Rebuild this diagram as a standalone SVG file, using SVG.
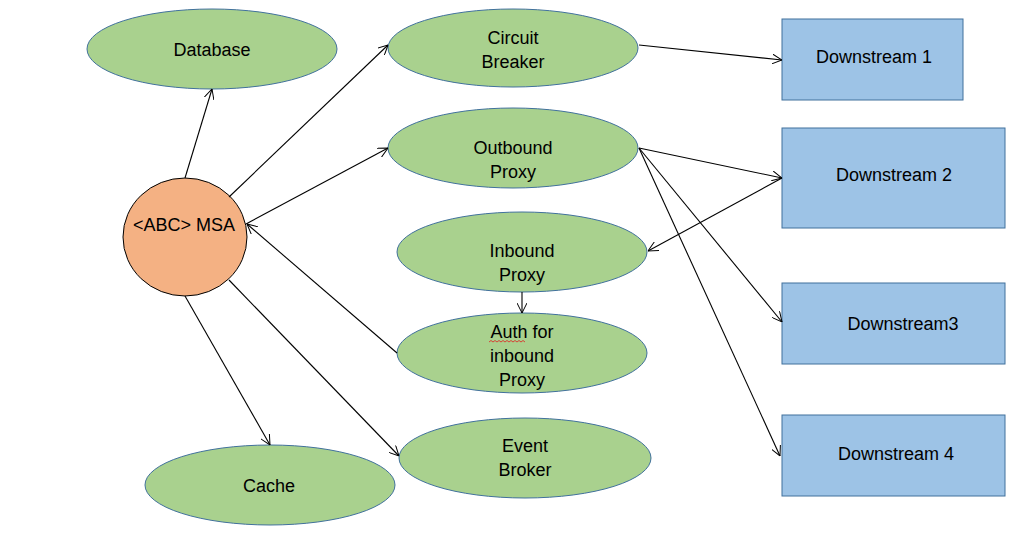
<svg xmlns="http://www.w3.org/2000/svg" width="1019" height="534" viewBox="0 0 1019 534">
<style>
.ell{fill:#a9d18e;stroke:#41719c;stroke-width:1}
.rect{fill:#9dc3e6;stroke:#41719c;stroke-width:1}
.msa{fill:#f4b183;stroke:#000;stroke-width:1}
text{font-family:"Liberation Sans",Arial,sans-serif;font-size:18px;fill:#000;text-anchor:middle}
.con line{stroke:#000;stroke-width:1.1;fill:none;marker-end:url(#arr)}
</style>
<defs>
<marker id="arr" viewBox="0 0 10 10" refX="10" refY="5" markerWidth="10" markerHeight="10" markerUnits="userSpaceOnUse" orient="auto">
<path d="M0,0 L10,5 L0,10" fill="none" stroke="#000" stroke-width="1"/>
</marker>
</defs>
<rect width="1019" height="534" fill="#fff"/>
<g id="database"><ellipse class="ell" cx="212" cy="49" rx="125" ry="40"/><text x="212" y="56">Database</text></g>
<g id="circuit-breaker"><ellipse class="ell" cx="513" cy="48" rx="125" ry="39"/><text x="513" y="44">Circuit</text><text x="513" y="68">Breaker</text></g>
<g id="outbound-proxy"><ellipse class="ell" cx="513" cy="148" rx="125" ry="40"/><text x="513" y="154">Outbound</text><text x="513" y="178">Proxy</text></g>
<g id="inbound-proxy"><ellipse class="ell" cx="522" cy="252" rx="125" ry="40"/><text x="522" y="257">Inbound</text><text x="522" y="281">Proxy</text></g>
<g id="auth"><ellipse class="ell" cx="522" cy="353" rx="125" ry="40"/><text x="522" y="338">Auth for</text><text x="522" y="362">inbound</text><text x="522" y="386">Proxy</text>
<path d="M489,342 l2,-1.5 l2,1.5 l2,-1.5 l2,1.5 l2,-1.5 l2,1.5 l2,-1.5 l2,1.5 l2,-1.5 l2,1.5 l2,-1.5 l2,1.5 l2,-1.5 l2,1.5 l2,-1.5 l2,1.5 l2,-1.5 l2,1.5" fill="none" stroke="#e02020" stroke-width="0.8"/></g>
<g id="event-broker"><ellipse class="ell" cx="525" cy="458" rx="126" ry="40"/><text x="525" y="452">Event</text><text x="525" y="476">Broker</text></g>
<g id="cache"><ellipse class="ell" cx="270" cy="485" rx="125" ry="40"/><text x="269" y="492">Cache</text></g>
<g id="msa"><ellipse class="msa" cx="185" cy="237" rx="62" ry="59"/><text x="184" y="231">&lt;ABC&gt; MSA</text></g>
<g id="downstream1"><rect class="rect" x="782" y="19" width="181" height="81"/><text x="874" y="63">Downstream 1</text></g>
<g id="downstream2"><rect class="rect" x="782" y="128" width="223" height="100"/><text x="894" y="181">Downstream 2</text></g>
<g id="downstream3"><rect class="rect" x="782" y="283" width="223" height="81"/><text x="903" y="330">Downstream3</text></g>
<g id="downstream4"><rect class="rect" x="782" y="415" width="223" height="81"/><text x="896" y="460">Downstream 4</text></g>
<g id="connectors" class="con">
<line x1="185" y1="178" x2="212" y2="89"/>
<line x1="229" y1="197" x2="388" y2="45"/>
<line x1="246" y1="224" x2="388" y2="148"/>
<line x1="397" y1="353" x2="247" y2="224"/>
<line x1="229" y1="280" x2="399" y2="456"/>
<line x1="185" y1="296" x2="270" y2="445"/>
<line x1="639" y1="45" x2="782" y2="60"/>
<line x1="639" y1="148" x2="782" y2="178"/>
<line x1="782" y1="178" x2="648" y2="251"/>
<line x1="639" y1="148" x2="782" y2="322"/>
<line x1="639" y1="148" x2="780" y2="456"/>
<line x1="522" y1="292" x2="522" y2="313"/>
</g>
</svg>
